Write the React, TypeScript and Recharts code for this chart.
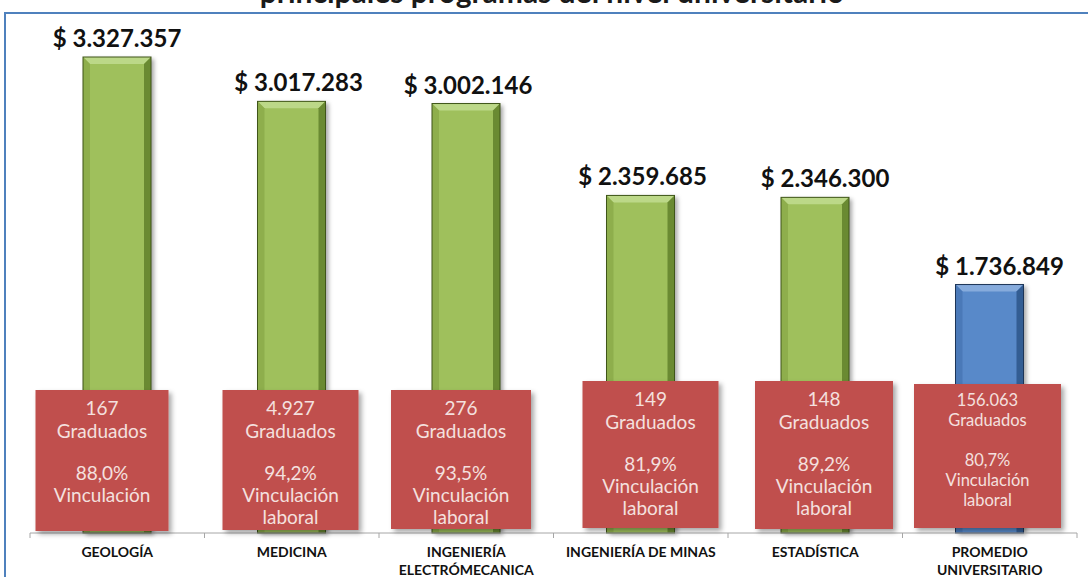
import { BarChart, Bar, XAxis, YAxis, LabelList } from 'recharts';

// Salario promedio de enganche por programa
const categories = ['GEOLOGÍA', 'MEDICINA', 'INGENIERÍA ELECTRÓMECANICA', 'INGENIERÍA DE MINAS', 'ESTADÍSTICA', 'PROMEDIO UNIVERSITARIO'];
const tickLines = [['GEOLOGÍA'], ['MEDICINA'], ['INGENIERÍA', 'ELECTRÓMECANICA'], ['INGENIERÍA DE MINAS'], ['ESTADÍSTICA'], ['PROMEDIO', 'UNIVERSITARIO']];
const salaries = [3327357, 3017283, 3002146, 2359685, 2346300, 1736849];
const salaryLabels = ['$ 3.327.357', '$ 3.017.283', '$ 3.002.146', '$ 2.359.685', '$ 2.346.300', '$ 1.736.849'];
const graduados = ['167', '4.927', '276', '149', '148', '156.063'];
const vinculacion = ['88,0%', '94,2%', '93,5%', '81,9%', '89,2%', '80,7%'];
const vinculacionText = [['Vinculación'], ['Vinculación', 'laboral'], ['Vinculación', 'laboral'], ['Vinculación', 'laboral'], ['Vinculación', 'laboral'], ['Vinculación', 'laboral']];
const barTones = ['green', 'green', 'green', 'green', 'green', 'blue'];

const W = 1088;
const H = 577;
const MARGIN = { top: 20, right: 11, bottom: 0, left: 30 };
const BAND = (W - MARGIN.left - MARGIN.right) / categories.length;
const FONT = 'Lato, "Open Sans", sans-serif';

// the boxes and labels were placed by hand in the original, slightly off centre
const boxLayout = [
  { dx: -15, top: 143, bottom: 2, w: 133 },
  { dx: -1, top: 143, bottom: 3, w: 136 },
  { dx: -5, top: 143, bottom: 4, w: 140 },
  { dx: 10, top: 152, bottom: 5, w: 136 },
  { dx: 9, top: 152, bottom: 4, w: 138 },
  { dx: -2, top: 149, bottom: 5, w: 147 },
];
const labelNudge = [0, 7, 2, 2, 10, 10];

const palette: Record<string, { body: string; light: string; side: string; dark: string; edge: string }> = {
  green: { body: '#9fc05c', light: '#bcd888', side: '#8eae4c', dark: '#6a8a32', edge: '#3f5519' },
  blue: { body: '#5889c9', light: '#86abdc', side: '#4a79b8', dark: '#335d93', edge: '#1d3557' },
};

const data = categories.map((name, i) => ({ name, salary: salaries[i] }));

const BevelBar = (props: any) => {
  const { x, y, width, height, payload } = props;
  const i = categories.indexOf(payload.name);
  const c = palette[barTones[i]];
  const b = 7;
  return (
    <g>
      <defs>
        <filter id={`shadow-${i}`} x="-20%" y="-5%" width="150%" height="115%">
          <feDropShadow dx="3" dy="2" stdDeviation="2" floodColor="#000" floodOpacity="0.35" />
        </filter>
      </defs>
      <g filter={`url(#shadow-${i})`}>
        <rect x={x} y={y} width={width} height={height} fill={c.body} />
      </g>
      <polygon points={`${x},${y} ${x + width},${y} ${x + width - b},${y + b} ${x + b},${y + b}`} fill={c.light} />
      <polygon points={`${x},${y} ${x + b},${y + b} ${x + b},${y + height} ${x},${y + height}`} fill={c.side} />
      <polygon points={`${x + width},${y} ${x + width - b},${y + b} ${x + width - b},${y + height} ${x + width},${y + height}`} fill={c.dark} />
      <rect x={x} y={y} width={width} height={height} fill="none" stroke={c.edge} strokeWidth={1} />
    </g>
  );
};

const ValueLabel = (props: any) => {
  const { x, y, width, value } = props;
  const i = categories.indexOf(value);
  return (
    <text x={x + width / 2 + labelNudge[i]} y={y - 10} textAnchor="middle" fontFamily={FONT} fontWeight={700} fontSize={24} fill="#111">
      {salaryLabels[i]}
    </text>
  );
};

const InfoBox = (props: any) => {
  const { x, y, width, height, value } = props;
  const i = categories.indexOf(value);
  const L = boxLayout[i];
  const cx = x + width / 2 + L.dx;
  const base = y + height;
  const top = base - L.top;
  const boxH = L.top - L.bottom;
  const small = i === categories.length - 1;
  const fs = small ? 16.5 : 19;
  const offs = small ? [16, 36, 76, 96, 116] : [17, 40, 82, 104, 126];
  const lines = [graduados[i], 'Graduados', vinculacion[i], ...vinculacionText[i]];
  return (
    <g>
      <defs>
        <filter id={`boxshadow-${i}`} x="-10%" y="-10%" width="130%" height="130%">
          <feDropShadow dx="3" dy="3" stdDeviation="2.5" floodColor="#000" floodOpacity="0.35" />
        </filter>
      </defs>
      <rect x={cx - L.w / 2} y={top} width={L.w} height={boxH} fill="#c0504d" filter={`url(#boxshadow-${i})`} />
      {lines.map((t, k) => (
        <text key={k} x={cx} y={top + offs[k]} dominantBaseline="central" textAnchor="middle" fontFamily={FONT} fontSize={fs} fill="#f4e0df">
          {t}
        </text>
      ))}
    </g>
  );
};

const AxisTick = (props: any) => {
  const { x, y, payload } = props;
  const i = categories.indexOf(payload.value);
  return (
    <g>
      <line x1={x - BAND / 2} y1={y} x2={x - BAND / 2} y2={y + 5} stroke="#a6a6a6" />
      {i === categories.length - 1 && <line x1={x + BAND / 2} y1={y} x2={x + BAND / 2} y2={y + 5} stroke="#a6a6a6" />}
      {tickLines[i].map((t, k) => (
        <text key={k} x={x} y={y + 24 + k * 18} textAnchor="middle" fontFamily={FONT} fontWeight={700} fontSize={14} fill="#111">
          {t}
        </text>
      ))}
    </g>
  );
};

export default function App() {
  return (
    <div style={{ position: 'fixed', left: 0, top: 0, width: W, height: H, background: '#fff', overflow: 'hidden' }}>
      <div style={{ position: 'absolute', left: 4, top: 12, width: W + 20, height: H + 20, border: '2px solid #4f81bd', boxSizing: 'border-box' }} />
      <svg style={{ position: 'absolute', left: 0, top: 0 }} width={W} height={14}>
        <text x={552} y={3} textAnchor="middle" fontFamily={FONT} fontWeight={700} fontSize={30} fill="#1a1a1a">
          principales programas del nivel universitario
        </text>
      </svg>
      <div style={{ position: 'absolute', left: 0, top: 0 }}>
        <BarChart width={W} height={H} data={data} margin={MARGIN} barSize={68}>
          <XAxis
            dataKey="name"
            interval={0}
            height={44}
            tickLine={false}
            tickSize={0}
            tickMargin={0}
            axisLine={{ stroke: '#a6a6a6' }}
            tick={<AxisTick />}
          />
          <YAxis hide domain={[0, 3586000]} />
          <Bar dataKey="salary" shape={<BevelBar />} isAnimationActive={false}>
            <LabelList dataKey="name" content={<ValueLabel />} />
            <LabelList dataKey="name" content={<InfoBox />} />
          </Bar>
        </BarChart>
      </div>
    </div>
  );
}
